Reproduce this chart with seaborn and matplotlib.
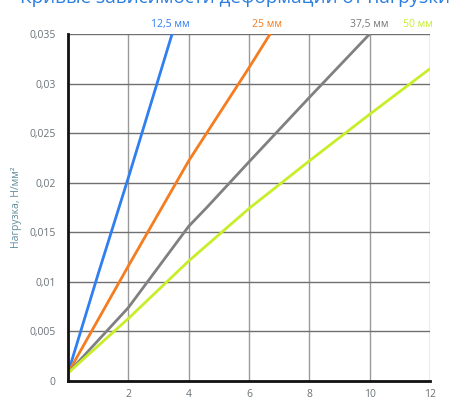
import matplotlib
matplotlib.use("Agg")
import matplotlib.pyplot as plt
import seaborn as sns
import pandas as pd

# ---- data ----
series_names = ["12,5 мм", "25 мм", "37,5 мм", "50 мм"]
blue_x = [0, 1, 2, 3, 3.45]
blue_y = [0.0008, 0.0108, 0.0205, 0.0305, 0.035]
orange_x = [0, 2, 4, 6, 6.7]
orange_y = [0.0008, 0.0116, 0.0222, 0.0316, 0.035]
gray_x = [0, 2, 4, 4.6, 6, 8, 10]
gray_y = [0.0008, 0.0074, 0.0156, 0.0175, 0.0221, 0.0286, 0.035]
lime_x = [0, 2, 4, 6, 8, 10, 12]
lime_y = [0.0008, 0.0063, 0.0121, 0.0174, 0.0222, 0.0269, 0.0315]
x_ticks = [2, 4, 6, 8, 10, 12]
y_ticks = [0, 0.005, 0.01, 0.015, 0.02, 0.025, 0.03, 0.035]
y_tick_labels = ["0", "0,005", "0,01", "0,015", "0,02", "0,025", "0,03", "0,035"]
colors = ["#2f7ff0", "#f57c1f", "#808080", "#c8ee2a"]
y_label = "Нагрузка, Н/мм²"
title = "Кривые зависимости деформации от нагрузки"

frames = []
for name, xs, ys in zip(series_names,
                        [blue_x, orange_x, gray_x, lime_x],
                        [blue_y, orange_y, gray_y, lime_y]):
    frames.append(pd.DataFrame({"x": xs, "y": ys, "s": name}))
df = pd.concat(frames, ignore_index=True)

sns.set_style("white")
plt.rcParams["font.family"] = ["Open Sans", "DejaVu Sans"]

fig = plt.figure(figsize=(4.7, 4.0), dpi=100)
ax = fig.add_axes([68 / 470, 1 - 381 / 400, (430 - 68) / 470, (381 - 34) / 400])

sns.lineplot(data=df, x="x", y="y", hue="s", palette=colors, hue_order=series_names,
             linewidth=2.0, legend=False, ax=ax, sort=False, zorder=3)

ax.set_xlim(0, 12)
ax.set_ylim(0, 0.035)
ax.set_xticks(x_ticks)
ax.set_xticklabels([str(t) for t in x_ticks])
ax.set_yticks(y_ticks)
ax.set_yticklabels(y_tick_labels)
ax.tick_params(axis="both", length=0, labelsize=7.5, colors="#6b7378")
ax.tick_params(axis="x", pad=6)
ax.tick_params(axis="y", pad=9)
ax.set_xlabel("")
ax.set_ylabel(y_label, color="#5f8d9c", fontsize=7.5)
ax.yaxis.set_label_coords(-0.127, 0.5)

ax.grid(False)
for x in x_ticks:
    ax.axvline(x, color="#9a9a9a", lw=1.0, zorder=1)
for y in y_ticks[1:]:
    ax.axhline(y, color="#707070", lw=1.0, zorder=1)

for side in ["top", "right"]:
    ax.spines[side].set_visible(False)
for side in ["left", "bottom"]:
    ax.spines[side].set_color("#111111")
    ax.spines[side].set_linewidth(2.0)
    ax.spines[side].set_zorder(5)

# series labels above the plot
label_x = [3.4, 6.6, 10.0, 11.6]
for name, lx, c in zip(series_names, label_x, colors):
    ax.text(lx, 1.012, name, transform=ax.get_xaxis_transform(), ha="center", va="bottom",
            fontsize=7.5, color=("#777777" if c == "#808080" else c))

# clipped title at top (only its lower part is visible, as in the reference)
fig.text(235 / 470, 1 - 3 / 400, title, ha="center", va="baseline", fontsize=13.6,
         color="#2a7de1")

fig.savefig("out.png", dpi=100)
